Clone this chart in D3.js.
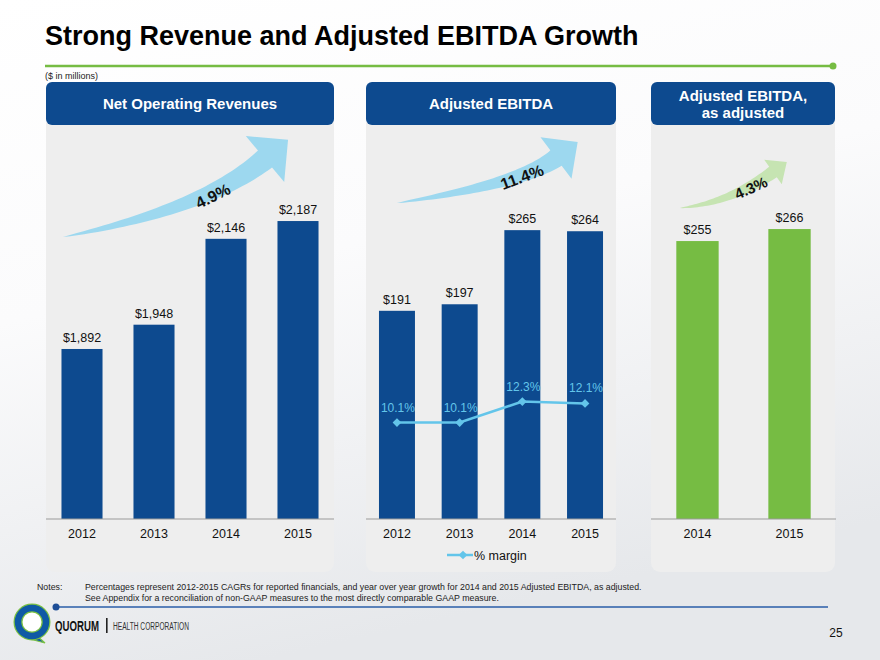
<!DOCTYPE html>
<html lang="en">
<head>
<meta charset="utf-8">
<title>Strong Revenue and Adjusted EBITDA Growth</title>
<script src="https://d3js.org/d3.v7.min.js"></script>
<style type="text/css">
body {
	margin: 0;
	font-family: "Liberation Sans", Arial, sans-serif;
}
</style>
</head>
<body>
<div id="vis"></div>
<script>

/* Data */
/* ==== */

var revYears = ['2012', '2013', '2014', '2015'];
var revValues = [1892, 1948, 2146, 2187];

var ebitdaYears = ['2012', '2013', '2014', '2015'];
var ebitdaValues = [191, 197, 265, 264];
var marginValues = [10.1, 10.1, 12.3, 12.1];

var adjYears = ['2014', '2015'];
var adjValues = [255, 266];

var cagrLabels = ['4.9%', '11.4%', '4.3%'];


/* Globals and SVG */
/* =============== */

var width = 880,
		height = 660,
		baseY = 519,
		panelBottom = 572;

var darkBlue = '#0d4a8f',
		green = '#76bc43',
		lightBlue = '#63c5ea';

var svg = d3.select('#vis')
	.append('svg')
		.attr('width', width)
		.attr('height', height)
		.style('display', 'block');

var defs = svg.append('defs');
var grad = defs.append('linearGradient').attr('id', 'bg')
	.attr('x1', 0).attr('y1', 0).attr('x2', 0.3).attr('y2', 1);
grad.append('stop').attr('offset', '0%').attr('stop-color', '#ffffff');
grad.append('stop').attr('offset', '45%').attr('stop-color', '#fbfbfc');
grad.append('stop').attr('offset', '100%').attr('stop-color', '#e6e8eb');

svg.append('rect')
	.attr('width', width).attr('height', height)
	.attr('fill', 'url(#bg)');


/* Scales */
/* ====== */

var xRev = d3.scaleBand().domain(revYears)
	.range([46, 334]).paddingInner(0.43).paddingOuter(0.215);
var yRev = d3.scaleLinear().domain([1500, 2200]).range([baseY, 215.4]);

var xEb = d3.scaleBand().domain(ebitdaYears)
	.range([366, 616]).paddingInner(0.426).paddingOuter(0.207);
var yEb = d3.scaleLinear().domain([0, 300]).range([baseY, 192]);
var yMargin = d3.scaleLinear().domain([0, 30]).range([baseY, 232.5]);

var xAdj = d3.scaleBand().domain(adjYears)
	.range([651, 836]).paddingInner(0.54).paddingOuter(0.275);


/* Functions */
/* ========= */

function drawTitle() {

	svg.append('text')
		.attr('x', 45).attr('y', 45)
		.style('font-size', '27px')
		.style('font-weight', 'bold')
		.attr('fill', '#000')
		.text('Strong Revenue and Adjusted EBITDA Growth');

	svg.append('line')
		.attr('x1', 45).attr('x2', 833)
		.attr('y1', 66).attr('y2', 66)
		.attr('stroke', green).attr('stroke-width', 2.5);

	svg.append('circle')
		.attr('cx', 833).attr('cy', 66).attr('r', 3.5)
		.attr('fill', green);

	svg.append('text')
		.attr('x', 45).attr('y', 79)
		.style('font-size', '9px')
		.attr('fill', '#222')
		.text('($ in millions)');

} // drawTitle()

function drawPanel(x0, x1, lines) {

	var g = svg.append('g');

	g.append('rect')
		.attr('x', x0).attr('y', 90)
		.attr('width', x1 - x0).attr('height', panelBottom - 90)
		.attr('rx', 9)
		.attr('fill', '#eeeeee');

	g.append('rect')
		.attr('x', x0).attr('y', 82)
		.attr('width', x1 - x0).attr('height', 43)
		.attr('rx', 6)
		.attr('fill', darkBlue);

	var cy = lines.length === 1 ? 109 : 101;
	lines.forEach(function(l, i) {
		g.append('text')
			.attr('x', (x0 + x1) / 2)
			.attr('y', cy + i * 17)
			.attr('text-anchor', 'middle')
			.style('font-size', '15px')
			.style('font-weight', 'bold')
			.attr('fill', '#fff')
			.text(l);
	});

	return g;

} // drawPanel()

function drawBars(g, x, y, years, values, color, fmt, axisRange) {

	g.selectAll('.bar')
		.data(values)
		.enter().append('rect')
			.attr('x', function(d, i) { return x(years[i]); })
			.attr('y', function(d) { return y(d); })
			.attr('width', x.bandwidth())
			.attr('height', function(d) { return baseY - y(d); })
			.attr('fill', color);

	g.selectAll('.val')
		.data(values)
		.enter().append('text')
			.attr('x', function(d, i) { return x(years[i]) + x.bandwidth() / 2; })
			.attr('y', function(d) { return y(d) - 7; })
			.attr('text-anchor', 'middle')
			.style('font-size', '12.5px')
			.attr('fill', '#111')
			.text(fmt);

	var axis = g.append('g')
		.attr('transform', 'translate(0,' + baseY + ')')
		.call(d3.axisBottom(x).tickSize(0).tickPadding(10));

	axis.select('.domain')
		.attr('d', 'M' + axisRange[0] + ',0H' + axisRange[1])
		.attr('stroke', '#999').attr('stroke-width', 1.2);

	axis.selectAll('text')
		.style('font-family', '"Liberation Sans", Arial, sans-serif')
		.style('font-size', '12.5px')
		.attr('fill', '#111');

} // drawBars()

function drawArrow(g, T, C, H, shaftHalf, headLen, headHalf, fill) {

	var n = 40, upper = [], lower = [];
	function pt(t) {
		var a = (1 - t) * (1 - t), b = 2 * t * (1 - t), c = t * t;
		return [a * T[0] + b * C[0] + c * H[0], a * T[1] + b * C[1] + c * H[1]];
	}
	function tan(t) {
		var dx = 2 * (1 - t) * (C[0] - T[0]) + 2 * t * (H[0] - C[0]);
		var dy = 2 * (1 - t) * (C[1] - T[1]) + 2 * t * (H[1] - C[1]);
		var l = Math.sqrt(dx * dx + dy * dy);
		return [dx / l, dy / l];
	}
	for (var i = 0; i <= n; i++) {
		var t = i / n, p = pt(t), u = tan(t), w = shaftHalf * Math.pow(t, 0.75);
		upper.push([p[0] + u[1] * w, p[1] - u[0] * w]);
		lower.push([p[0] - u[1] * w, p[1] + u[0] * w]);
	}
	var ue = tan(1);
	var head = [
		[H[0] + ue[1] * headHalf, H[1] - ue[0] * headHalf],
		[H[0] + ue[0] * headLen, H[1] + ue[1] * headLen],
		[H[0] - ue[1] * headHalf, H[1] + ue[0] * headHalf]
	];
	var poly = upper.concat(head).concat(lower.reverse());

	g.append('path')
		.attr('d', d3.line()(poly) + 'Z')
		.attr('fill', fill);

} // drawArrow()

function drawCagr(g, label, cx, cy, angle, size) {

	g.append('text')
		.attr('transform', 'translate(' + cx + ',' + cy + ') rotate(' + angle + ')')
		.attr('text-anchor', 'middle')
		.attr('dy', '0.35em')
		.style('font-size', size + 'px')
		.style('font-weight', 'bold')
		.attr('fill', '#111')
		.text(label);

} // drawCagr()

function drawMargin(g) {

	var cx = function(d, i) { return xEb(ebitdaYears[i]) + xEb.bandwidth() / 2; };
	var line = d3.line()
		.x(function(d, i) { return cx(d, i); })
		.y(function(d) { return yMargin(d); });

	g.append('path')
		.datum(marginValues)
		.attr('d', line)
		.attr('fill', 'none')
		.attr('stroke', lightBlue)
		.attr('stroke-width', 2.5);

	var diamond = d3.symbol().type(d3.symbolSquare).size(38);

	g.selectAll('.mk')
		.data(marginValues)
		.enter().append('path')
			.attr('d', diamond)
			.attr('transform', function(d, i) {
				return 'translate(' + cx(d, i) + ',' + yMargin(d) + ') rotate(45)';
			})
			.attr('fill', lightBlue);

	g.selectAll('.ml')
		.data(marginValues)
		.enter().append('text')
			.attr('x', function(d, i) { return cx(d, i) + 1; })
			.attr('y', function(d) { return yMargin(d) - 11; })
			.attr('text-anchor', 'middle')
			.style('font-size', '12px')
			.attr('fill', lightBlue)
			.text(function(d) { return d.toFixed(1) + '%'; });

	// legend
	var lg = g.append('g').attr('transform', 'translate(447,555)');
	lg.append('line')
		.attr('x1', 0).attr('x2', 26)
		.attr('stroke', lightBlue).attr('stroke-width', 2.5);
	lg.append('path')
		.attr('d', diamond)
		.attr('transform', 'translate(16,0) rotate(45)')
		.attr('fill', lightBlue);
	lg.append('text')
		.attr('x', 27).attr('y', 5)
		.style('font-size', '12.5px')
		.attr('fill', '#111')
		.text('% margin');

} // drawMargin()

function drawFooter() {

	var f = svg.append('g');

	f.append('text')
		.attr('x', 37).attr('y', 590)
		.style('font-size', '8.8px')
		.attr('fill', '#222')
		.text('Notes:');

	var notes = [
		'Percentages represent 2012-2015 CAGRs for reported financials, and year over year growth for 2014 and 2015 Adjusted EBITDA, as adjusted.',
		'See Appendix for a reconciliation of non-GAAP measures to the most directly comparable GAAP measure.'
	];
	notes.forEach(function(t, i) {
		f.append('text')
			.attr('x', 85).attr('y', 590 + i * 11)
			.style('font-size', '8.8px')
			.attr('fill', '#222')
			.text(t);
	});

	f.append('line')
		.attr('x1', 55).attr('x2', 828)
		.attr('y1', 607).attr('y2', 607)
		.attr('stroke', '#2a5ea8').attr('stroke-width', 1.5);
	f.append('circle')
		.attr('cx', 56).attr('cy', 607).attr('r', 3.5)
		.attr('fill', '#1d4e96');

	// logo
	f.append('path')
		.attr('d', 'M35,634 L45,643 L30,639 Z')
		.attr('fill', '#0f5aa5').attr('stroke', '#7ac143').attr('stroke-width', 1.2);
	f.append('circle')
		.attr('cx', 32).attr('cy', 622).attr('r', 14)
		.attr('fill', '#fff')
		.attr('stroke', '#7ac143').attr('stroke-width', 9);
	f.append('circle')
		.attr('cx', 32).attr('cy', 622).attr('r', 14)
		.attr('fill', 'none')
		.attr('stroke', '#0f5aa5').attr('stroke-width', 6.5);

	f.append('text')
		.attr('x', 55).attr('y', 631)
		.style('font-size', '14px')
		.style('font-weight', 'bold')
		.attr('fill', '#111')
		.attr('textLength', 44)
		.attr('lengthAdjust', 'spacingAndGlyphs')
		.text('QUORUM');
	f.append('rect')
		.attr('x', 106).attr('y', 618)
		.attr('width', 1.6).attr('height', 15)
		.attr('fill', '#222');
	f.append('text')
		.attr('x', 113).attr('y', 630)
		.style('font-size', '10px')
		.attr('fill', '#333')
		.attr('textLength', 76)
		.attr('lengthAdjust', 'spacingAndGlyphs')
		.text('HEALTH CORPORATION');

	f.append('text')
		.attr('x', 836).attr('y', 637)
		.attr('text-anchor', 'middle')
		.style('font-size', '12px')
		.attr('fill', '#111')
		.text('25');

} // drawFooter()


/* Build steps */
/* =========== */

drawTitle();

var p1 = drawPanel(46, 334, ['Net Operating Revenues']);
drawArrow(p1, [63, 237], [205, 209], [265, 159], 11, 30, 30, '#9dd8ef');
drawCagr(p1, cagrLabels[0], 213, 196, -26, 16);
drawBars(p1, xRev, yRev, revYears, revValues, darkBlue, d3.format('$,'), [46, 334]);

var p2 = drawPanel(366, 616, ['Adjusted EBITDA']);
drawArrow(p2, [397, 203], [521, 184], [556, 158], 9.5, 27, 26, '#9dd8ef');
drawCagr(p2, cagrLabels[1], 522, 177, -20, 16);
drawBars(p2, xEb, yEb, ebitdaYears, ebitdaValues, darkBlue, function(d) { return '$' + d; }, [366, 616]);
drawMargin(p2);

var p3 = drawPanel(651, 835, ['Adjusted EBITDA,', 'as adjusted']);
drawArrow(p3, [680, 208], [730, 203], [773, 172], 6.5, 17, 15, '#c6e4b2');
drawCagr(p3, cagrLabels[2], 751, 188, -24, 15);
drawBars(p3, xAdj, yEb, adjYears, adjValues, green, function(d) { return '$' + d; }, [651, 836]);

drawFooter();

</script>
</body>
</html>
